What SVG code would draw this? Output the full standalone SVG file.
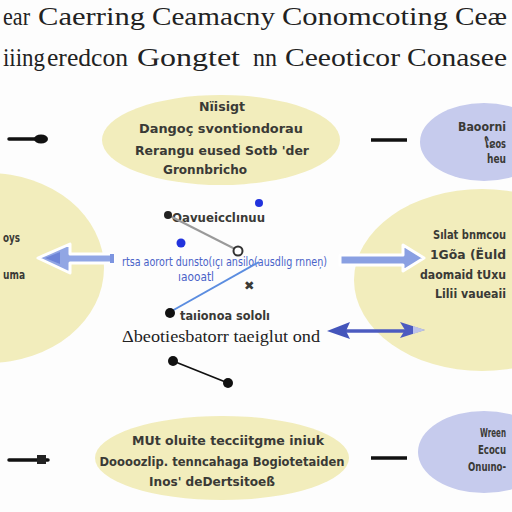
<svg xmlns="http://www.w3.org/2000/svg" width="512" height="512" viewBox="0 0 512 512">
<defs>
<style>
.title{font-family:"Liberation Serif","DejaVu Serif",serif;fill:#222;}
.t{font-family:"DejaVu Sans","Liberation Sans",sans-serif;font-weight:bold;fill:#3a3a36;font-size:12.5px;}
.yel{fill:#f2edbc;}
.blu{fill:#c6cbed;}
.bt{font-family:"DejaVu Sans","Liberation Sans",sans-serif;fill:#4a63c8;font-size:12px;}
.dk{font-family:"Liberation Serif","DejaVu Serif",serif;fill:#222;}
</style>
</defs>
<rect width="512" height="512" fill="#fdfdfd"/>

<g id="title">
<text class="title" font-size="26" x="3" y="25" textLength="27" lengthAdjust="spacingAndGlyphs">ear</text>
<text class="title" font-size="26" x="38" y="25" textLength="107" lengthAdjust="spacingAndGlyphs">Caerring</text>
<text class="title" font-size="26" x="152" y="25" textLength="123" lengthAdjust="spacingAndGlyphs">Ceamacny</text>
<text class="title" font-size="26" x="282" y="25" textLength="166" lengthAdjust="spacingAndGlyphs">Conomcoting</text>
<text class="title" font-size="26" x="455" y="25" textLength="52" lengthAdjust="spacingAndGlyphs">Ceæ</text>
<text class="title" font-size="25" x="3" y="66" textLength="42" lengthAdjust="spacingAndGlyphs">iiing</text>
<text class="title" font-size="25" x="47" y="66" textLength="81" lengthAdjust="spacingAndGlyphs">eredcon</text>
<text class="title" font-size="25" x="137" y="66" textLength="103" lengthAdjust="spacingAndGlyphs">Gongtet</text>
<text class="title" font-size="25" x="253" y="66" textLength="24" lengthAdjust="spacingAndGlyphs">nn</text>
<text class="title" font-size="25" x="285" y="66" textLength="115" lengthAdjust="spacingAndGlyphs">Ceeoticor</text>
<text class="title" font-size="25" x="407" y="66" textLength="100" lengthAdjust="spacingAndGlyphs">Conasee</text>
</g>

<g id="node-left">
<ellipse class="yel" cx="-12" cy="268" rx="116" ry="95"/>
<text class="t" x="3" y="242" textLength="17" lengthAdjust="spacingAndGlyphs">oys</text>
<text class="t" x="3" y="279" textLength="22" lengthAdjust="spacingAndGlyphs">uma</text>
</g>

<g id="node-right">
<ellipse class="yel" cx="482" cy="280" rx="128" ry="91"/>
<text class="t" x="433" y="239" textLength="73" lengthAdjust="spacingAndGlyphs">Sılat bnmcou</text>
<text class="t" x="430" y="259" textLength="76" lengthAdjust="spacingAndGlyphs">1Gõa (Ëuld</text>
<text class="t" x="420" y="279" textLength="86" lengthAdjust="spacingAndGlyphs">daomaid tUxu</text>
<text class="t" x="435" y="298" font-size="10.5" textLength="71" lengthAdjust="spacingAndGlyphs">Lilii vaueaii</text>
</g>

<g id="node-top">
<ellipse class="yel" cx="221" cy="140" rx="119" ry="45"/>
<text class="t" x="222" y="111" text-anchor="middle" font-size="14" textLength="46" lengthAdjust="spacingAndGlyphs">Nïisigt</text>
<text class="t" x="221" y="133" text-anchor="middle" textLength="164" lengthAdjust="spacingAndGlyphs">Dangoç svontiondorau</text>
<text class="t" x="222" y="155" text-anchor="middle" textLength="174" lengthAdjust="spacingAndGlyphs">Rerangu eused Sotb 'der</text>
<text class="t" x="205" y="174" text-anchor="middle" textLength="84" lengthAdjust="spacingAndGlyphs">Gronnbricho</text>
</g>

<g id="node-top-right">
<ellipse class="blu" cx="484" cy="142" rx="64" ry="39"/>
<text class="t" x="458" y="131" textLength="48" lengthAdjust="spacingAndGlyphs">Baoorni</text>
<text class="t" x="485" y="148" font-size="11" textLength="21" lengthAdjust="spacingAndGlyphs">ໂຂos</text>
<text class="t" x="487" y="163" font-size="11" textLength="19" lengthAdjust="spacingAndGlyphs">heu</text>
</g>

<g id="node-bottom">
<ellipse class="yel" cx="222" cy="458" rx="127" ry="42"/>
<text class="t" x="228" y="445" text-anchor="middle" font-size="14" textLength="192" lengthAdjust="spacingAndGlyphs">MUt oluite tecciitgme iniuk</text>
<text class="t" x="222" y="466" text-anchor="middle" font-size="14" textLength="245" lengthAdjust="spacingAndGlyphs">Doooozlip. tenncahaga Bogiotetaiden</text>
<text class="t" x="212" y="486" text-anchor="middle" font-size="14" textLength="126" lengthAdjust="spacingAndGlyphs">Inos' deDertsitoeß</text>
</g>

<g id="node-bottom-right">
<ellipse class="blu" cx="484" cy="452" rx="66" ry="41"/>
<text class="t" x="480" y="437" font-size="11.5" fill="#2c3560" textLength="26" lengthAdjust="spacingAndGlyphs">Wreen</text>
<text class="t" x="478" y="454" font-size="11.5" textLength="28" lengthAdjust="spacingAndGlyphs">Ecocu</text>
<text class="t" x="468" y="471" font-size="11.5" textLength="38" lengthAdjust="spacingAndGlyphs">Onuıno-</text>
</g>

<g id="center-labels">
<text class="bt" x="122" y="266" textLength="205" lengthAdjust="spacingAndGlyphs">rtsa aorort dunsto(ıçı ansilo(ausdlıg rnneņ)</text>
<text class="bt" x="178" y="281" font-size="10" textLength="36" lengthAdjust="spacingAndGlyphs">ıaooatl</text>
<text class="t" x="172" y="222" font-size="11" fill="#333" textLength="93" lengthAdjust="spacingAndGlyphs">Oavueicclınuu</text>
<text class="t" x="180" y="320" font-size="11" fill="#222" textLength="90" lengthAdjust="spacingAndGlyphs">taıionoa sololı</text>
<text class="dk" x="122" y="342" font-size="16" textLength="198" lengthAdjust="spacingAndGlyphs">Δbeotiesbatorr taeiglut ond</text>
<text class="t" x="244" y="290" font-size="10" fill="#111">✖</text>
</g>

<g id="connectors">
<line x1="9" y1="139" x2="42" y2="139" stroke="#111" stroke-width="3.5" stroke-linecap="round"/>
<ellipse cx="41" cy="139" rx="7" ry="4.5" fill="#111"/>
<line x1="9" y1="460" x2="48" y2="460" stroke="#111" stroke-width="3.5" stroke-linecap="round"/>
<rect x="37" y="455" width="9" height="9" fill="#222"/>
<line x1="371" y1="140" x2="407" y2="140" stroke="#111" stroke-width="3.5"/>
<line x1="371" y1="458" x2="407" y2="458" stroke="#111" stroke-width="3.5"/>
<polygon points="38,258 70,244 70,254 113,254 113,263 70,263 70,273" fill="#91a6e4" stroke="#ffffff" stroke-width="3" stroke-linejoin="round"/>
<polygon points="45,258 60,252 60,264" fill="#6d84d8"/>
<rect x="110" y="254" width="4" height="9" fill="#7d95e0"/>
<polygon points="340,255 403,255 403,245 424,258 403,271 403,265 340,265" fill="#8aa0e2" stroke="#ffffff" stroke-width="3" stroke-linejoin="round"/>
<line x1="338" y1="331" x2="412" y2="331" stroke="#4c5bc0" stroke-width="3.5"/>
<polygon points="327,331 350,322 346,331 350,339" fill="#4455bb"/>
<polygon points="425,330 400,322 405,330 400,338" fill="#4c5bc0"/>
<polygon points="413,326 425,330 413,334" fill="#eef0fb" opacity="0.7"/>
<line x1="168" y1="215" x2="237" y2="250" stroke="#9a9a9a" stroke-width="2"/>
<circle cx="168" cy="215" r="4" fill="#222"/>
<circle cx="238" cy="251" r="4.5" fill="#fff" stroke="#333" stroke-width="2"/>
<line x1="170" y1="312" x2="259" y2="262" stroke="#5b8de0" stroke-width="2"/>
<circle cx="170" cy="313" r="5" fill="#111"/>
<circle cx="259" cy="203" r="4" fill="#2233dd"/>
<circle cx="181" cy="243" r="4.5" fill="#2233dd"/>
<line x1="173" y1="361" x2="228" y2="383" stroke="#111" stroke-width="1.8"/>
<circle cx="173" cy="361" r="5" fill="#111"/>
<circle cx="228" cy="383" r="5" fill="#111"/>
</g>
</svg>
